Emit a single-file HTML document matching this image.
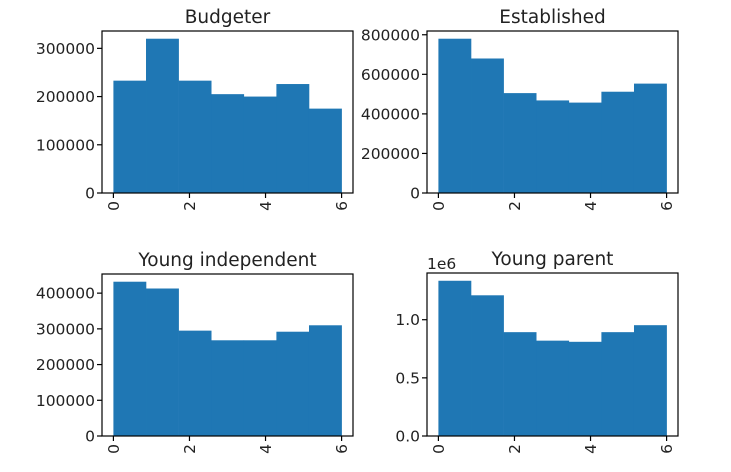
<!DOCTYPE html>
<html><head><meta charset="utf-8"><style>
html,body{margin:0;padding:0;background:#fff;}
svg{display:block;font-family:"DejaVu Sans","Liberation Sans",sans-serif;}
</style></head><body>
<svg id="chart" width="731" height="472" viewBox="0 0 731 472"></svg>
<script>
const titles = ["Budgeter","Established","Young independent","Young parent"];
const budgeterCounts = [233000,320000,233000,205000,200000,226000,175000];
const establishedCounts = [780000,680000,505000,468000,457000,512000,553000];
const youngIndependentCounts = [432000,413000,295000,268000,268000,292000,310000];
const youngParentCounts = [1335000,1210000,893000,820000,810000,893000,953000];
const binEdgesMin = 0, binEdgesMax = 6, binCount = 7;
const xTicks = [0,2,4,6];
const yTicksA = [0,100000,200000,300000];
const yTicksB = [0,200000,400000,600000,800000];
const yTicksC = [0,100000,200000,300000,400000];
const yTicksD = [0,500000,1000000];

const panels = [
 {name:"budgeter",data:budgeterCounts,ticks:yTicksA,box:[102,31,353,193],fmt:v=>String(v)},
 {name:"established",data:establishedCounts,ticks:yTicksB,box:[427,31,678,193],fmt:v=>String(v)},
 {name:"young-independent",data:youngIndependentCounts,ticks:yTicksC,box:[102,274,353,436],fmt:v=>String(v)},
 {name:"young-parent",data:youngParentCounts,ticks:yTicksD,box:[427,273,678,436],fmt:v=>(v/1e6).toFixed(1),offset:"1e6"}
];
const NS="http://www.w3.org/2000/svg";
const svg=document.getElementById('chart');
function mk(tag,attrs,parent){const e=document.createElementNS(NS,tag);for(const k in attrs)e.setAttribute(k,attrs[k]);(parent||svg).appendChild(e);return e;}
panels.forEach((p,i)=>{
 const [x0,y0,x1,y1]=p.box;
 const g=mk('g',{});
 
 
 const span=binEdgesMax-binEdgesMin, xmin=binEdgesMin-span*0.05, xmax=binEdgesMax+span*0.05;
 const ymax=Math.max(...p.data)*1.05;
 const X=v=>x0+(v-xmin)/(xmax-xmin)*(x1-x0);
 const Y=v=>y1-v/ymax*(y1-y0);
 const w=span/binCount;
 p.data.forEach((v,j)=>{
  const r=mk('rect',{x:X(binEdgesMin+j*w),y:Y(v),width:X(binEdgesMin+(j+1)*w)-X(binEdgesMin+j*w)+0.3,height:y1-Y(v),fill:'#1f77b4'},g);
  
  
 });
 const fr=mk('rect',{x:x0,y:y0,width:x1-x0,height:y1-y0,fill:'none',stroke:'#000','stroke-width':1.2},g);
 
 
 p.ticks.forEach(t=>{
  const y=Y(t);
  mk('line',{x1:x0-5,x2:x0,y1:y,y2:y,stroke:'#000','stroke-width':1.2},g);
  const tx=mk('text',{x:x0-7,y:y+5.5,'text-anchor':'end','font-size':15.5,fill:'#222'},g);
  tx.textContent=p.fmt(t);
  
  
 });
 xTicks.forEach(t=>{
  const x=X(t);
  mk('line',{x1:x,x2:x,y1:y1,y2:y1+5,stroke:'#000','stroke-width':1.2},g);
  const tx=mk('text',{x:x+5.5,y:y1+8,'text-anchor':'end','font-size':15.5,fill:'#222',transform:`rotate(-90 ${x+5.5} ${y1+8})`},g);
  tx.textContent=String(t);
  
  
 });
 const ti=mk('text',{x:(x0+x1)/2,y:y0-8,'text-anchor':'middle','font-size':18.5,fill:'#222'},g);
 ti.textContent=titles[i];
 
 
 if(p.offset){
  const o=mk('text',{x:x0,y:y0-4,'font-size':15.5,fill:'#222'},g);
  o.textContent=p.offset;
  
  
 }
});
</script>
</body></html>
